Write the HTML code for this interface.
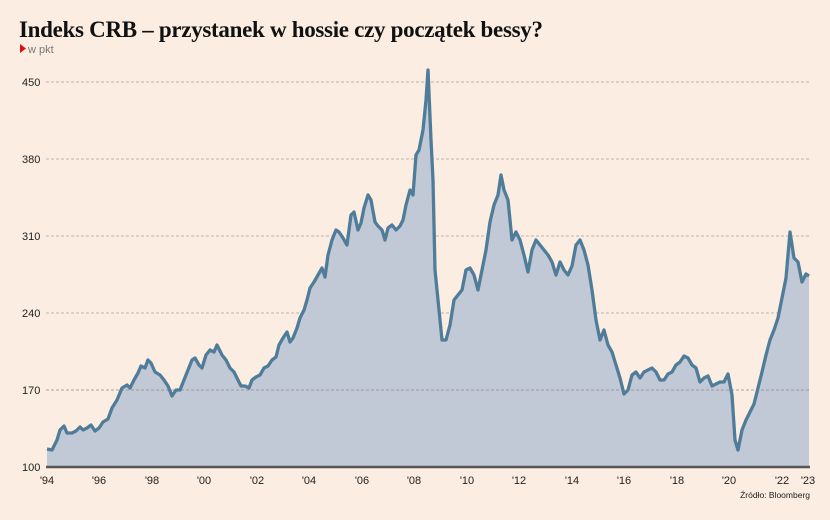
<!DOCTYPE html>
<html><head><meta charset="utf-8"><style>
html,body{margin:0;padding:0;background:#fbede1;}
svg{display:block;}
</style></head><body>
<svg width="830" height="520" xmlns="http://www.w3.org/2000/svg">
<rect width="830" height="520" fill="#fbede1"/>
<text x="19" y="37" font-family="Liberation Serif, serif" font-weight="bold" font-size="23" fill="#111" letter-spacing="-0.3">Indeks CRB – przystanek w hossie czy początek bessy?</text>
<polygon points="20,44 26,48.5 20,53" fill="#e01010"/>
<text x="28" y="53" font-family="Liberation Sans, sans-serif" font-size="11" fill="#777">w pkt</text>
<g font-family="Liberation Sans, sans-serif" font-size="11" fill="#222">
<text x="22" y="86">450</text><text x="22" y="163">380</text><text x="22" y="240">310</text>
<text x="22" y="317">240</text><text x="22" y="394">170</text><text x="22" y="471">100</text>
</g>
<g stroke="#a9a39c" stroke-width="0.8" stroke-dasharray="3,2">
<line x1="46" y1="82" x2="810" y2="82"/><line x1="46" y1="159" x2="810" y2="159"/>
<line x1="46" y1="236" x2="810" y2="236"/><line x1="46" y1="313" x2="810" y2="313"/>
</g>
<polygon fill="#c1c8d6" points="47,467 47,449 52,450 57,440 60,430 64,426 67,433 72,433 76,431 80,427 83,430 87,428 91,425 95,431 99,428 103,422 108,419 112,408 117,400 122,388 127,385 130,388 134,380 138,373 141,366 145,368 148,360 151,363 155,372 160,375 164,380 168,386 172,396 176,390 180,390 184,380 188,370 192,360 195,358 199,365 202,368 206,355 210,350 214,352 217,345 222,355 226,360 230,368 234,372 238,380 241,386 245,386 249,388 252,380 256,377 260,375 264,368 268,366 272,360 276,357 279,345 283,338 287,332 290,342 293,338 297,328 300,318 304,310 307,300 310,288 314,282 318,275 322,268 325,277 328,255 332,240 336,230 339,232 343,238 347,245 351,215 354,212 358,230 361,223 364,208 368,195 371,200 375,222 378,226 382,230 385,240 388,228 392,225 396,230 400,226 403,220 406,205 410,190 413,195 416,155 419,150 423,130 426,100 428,70 431,140 433,180 435,270 438,300 442,340 446,340 450,325 454,300 458,295 462,290 466,270 470,268 474,275 478,290 482,270 486,250 490,222 494,205 498,195 501,175 504,190 508,200 512,240 516,232 520,240 524,255 528,272 532,250 536,240 540,245 544,250 548,255 552,262 556,275 560,262 564,270 568,275 572,266 576,245 580,240 584,250 588,265 592,290 596,320 600,340 604,330 608,345 612,352 616,365 620,378 624,394 628,390 632,375 636,372 640,378 644,372 648,370 652,368 656,372 660,380 664,380 668,374 672,372 676,365 680,362 684,356 688,358 692,365 696,368 700,382 704,378 708,376 712,386 716,384 720,382 724,382 728,374 732,395 735,440 738,450 742,430 746,420 750,412 754,404 758,388 762,372 766,355 770,340 774,330 778,318 782,298 786,278 790,232 794,258 798,262 802,282 806,274 809,276 809,467"/>
<line x1="46" y1="390" x2="810" y2="390" stroke="#8f8a85" stroke-width="0.8" stroke-dasharray="3,2"/>
<polyline fill="none" stroke="#4f7d99" stroke-width="3.3" stroke-linejoin="round" points="47,449 52,450 57,440 60,430 64,426 67,433 72,433 76,431 80,427 83,430 87,428 91,425 95,431 99,428 103,422 108,419 112,408 117,400 122,388 127,385 130,388 134,380 138,373 141,366 145,368 148,360 151,363 155,372 160,375 164,380 168,386 172,396 176,390 180,390 184,380 188,370 192,360 195,358 199,365 202,368 206,355 210,350 214,352 217,345 222,355 226,360 230,368 234,372 238,380 241,386 245,386 249,388 252,380 256,377 260,375 264,368 268,366 272,360 276,357 279,345 283,338 287,332 290,342 293,338 297,328 300,318 304,310 307,300 310,288 314,282 318,275 322,268 325,277 328,255 332,240 336,230 339,232 343,238 347,245 351,215 354,212 358,230 361,223 364,208 368,195 371,200 375,222 378,226 382,230 385,240 388,228 392,225 396,230 400,226 403,220 406,205 410,190 413,195 416,155 419,150 423,130 426,100 428,70 431,140 433,180 435,270 438,300 442,340 446,340 450,325 454,300 458,295 462,290 466,270 470,268 474,275 478,290 482,270 486,250 490,222 494,205 498,195 501,175 504,190 508,200 512,240 516,232 520,240 524,255 528,272 532,250 536,240 540,245 544,250 548,255 552,262 556,275 560,262 564,270 568,275 572,266 576,245 580,240 584,250 588,265 592,290 596,320 600,340 604,330 608,345 612,352 616,365 620,378 624,394 628,390 632,375 636,372 640,378 644,372 648,370 652,368 656,372 660,380 664,380 668,374 672,372 676,365 680,362 684,356 688,358 692,365 696,368 700,382 704,378 708,376 712,386 716,384 720,382 724,382 728,374 732,395 735,440 738,450 742,430 746,420 750,412 754,404 758,388 762,372 766,355 770,340 774,330 778,318 782,298 786,278 790,232 794,258 798,262 802,282 806,274 809,276"/>
<line x1="46" y1="467" x2="810" y2="467" stroke="#555" stroke-width="2.5"/>
<g font-family="Liberation Sans, sans-serif" font-size="11" fill="#222" text-anchor="middle">
<text x="47" y="484">'94</text><text x="99" y="484">'96</text><text x="152" y="484">'98</text>
<text x="204" y="484">'00</text><text x="257" y="484">'02</text><text x="309" y="484">'04</text>
<text x="362" y="484">'06</text><text x="414" y="484">'08</text><text x="467" y="484">'10</text>
<text x="519" y="484">'12</text><text x="572" y="484">'14</text><text x="624" y="484">'16</text>
<text x="677" y="484">'18</text><text x="729" y="484">'20</text><text x="782" y="484">'22</text>
<text x="808" y="484">'23</text>
</g>
<text x="810" y="498" font-family="Liberation Sans, sans-serif" font-size="8.5" fill="#222" text-anchor="end">Źródło: Bloomberg</text>
</svg>
</body></html>
